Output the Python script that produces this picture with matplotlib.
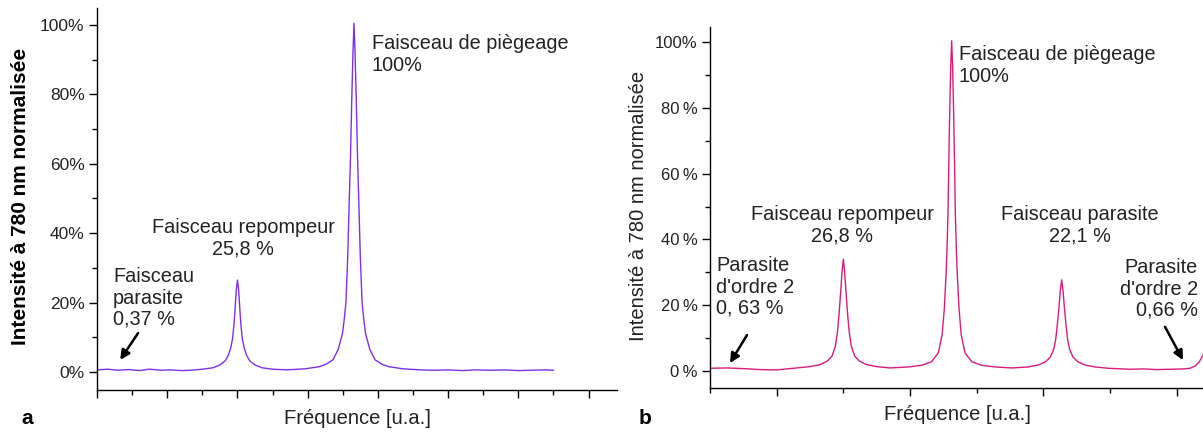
import matplotlib
matplotlib.use("Agg")
import matplotlib.pyplot as plt
from matplotlib.ticker import MultipleLocator, FixedLocator, FixedFormatter

plt.rcParams['font.family'] = ['Liberation Sans', 'DejaVu Sans']

# ---- panel a : spectre (violet) ----
freq_a = [0.0, 0.3, 0.6, 0.9, 1.2, 1.5, 1.8, 2.1, 2.4, 2.7, 3.0,
          3.3, 3.5, 3.65, 3.74, 3.81, 3.86, 3.9, 3.925, 3.95, 3.97, 4.0,
          4.03, 4.05, 4.075, 4.1, 4.14, 4.19, 4.26, 4.35, 4.5, 4.7, 5.0,
          5.4, 5.92, 6.32, 6.52, 6.72, 6.87, 6.99, 7.04, 7.09, 7.14, 7.186,
          7.22, 7.257, 7.29, 7.32, 7.35, 7.383, 7.42, 7.454, 7.5, 7.55, 7.6,
          7.65, 7.77, 7.92, 8.12, 8.32, 8.72, 9.22,
          9.6, 10.0, 10.4, 10.8, 11.2, 11.6, 12.0, 12.4, 12.8, 13.0]
intens_a = [0.6, 0.8, 0.5, 0.7, 0.4, 0.8, 0.5, 0.6, 0.4, 0.5, 0.8,
            1.2, 2.0, 3.2, 4.8, 7.0, 9.5, 13.5, 17, 21, 24, 26.5,
            24, 21, 17, 13.5, 9.5, 7.0, 4.8, 3.2, 2.0, 1.2, 0.8,
            0.6, 0.9, 1.5, 2.2, 3.5, 6.5, 11, 15, 20, 33, 50,
            62, 79, 92, 100.5, 92, 79, 62, 50, 33, 20, 15,
            11, 6.5, 3.5, 2.2, 1.5, 0.9, 0.6,
            0.5, 0.6, 0.4, 0.6, 0.5, 0.6, 0.4, 0.5, 0.6, 0.5]

# ---- panel b : spectre (magenta) ----
freq_b = [0.0, 0.25, 0.5, 0.75, 1.0, 1.3,
          1.5, 1.65, 1.76, 1.83, 1.88, 1.91, 1.933, 1.96, 1.98, 2.0,
          2.02, 2.04, 2.067, 2.09, 2.12, 2.17, 2.24, 2.35, 2.5, 2.7,
          2.975, 3.175, 3.325, 3.425, 3.482, 3.515, 3.542, 3.555, 3.57, 3.581,
          3.595, 3.61, 3.625, 3.64, 3.655, 3.669, 3.68, 3.695, 3.708, 3.735,
          3.768, 3.825, 3.925, 4.075, 4.275, 4.525,
          4.775, 4.925, 5.035, 5.105, 5.155, 5.185, 5.21, 5.235, 5.255, 5.275,
          5.295, 5.315, 5.34, 5.365, 5.395, 5.445, 5.515, 5.625, 5.775, 5.975,
          6.3, 6.5, 6.7, 6.9, 7.1, 7.2, 7.28, 7.34, 7.4]
intens_b = [0.8, 0.9, 0.7, 0.4, 0.3, 0.9,
            1.3, 1.9, 3.0, 4.5, 7.5, 11.5, 16.5, 24, 30, 34,
            30, 24, 16.5, 11.5, 7.5, 4.5, 3.0, 1.9, 1.3, 0.9,
            1.2, 1.7, 2.8, 5.5, 11, 19, 29.8, 37, 48, 62,
            78, 92, 100.4, 92, 78, 62, 48, 37, 29.8, 19,
            11, 5.5, 2.8, 1.7, 1.2, 0.9,
            1.2, 1.8, 2.8, 4.2, 6.5, 9.5, 14, 19.5, 24.5, 27.7,
            24.5, 19.5, 14, 9.5, 6.5, 4.2, 2.8, 1.8, 1.2, 0.8,
            0.5, 0.6, 0.4, 0.5, 0.6, 0.8, 1.5, 2.8, 4.9]

yticks = [0, 20, 40, 60, 80, 100]
ylabels_a = ['0%', '20%', '40%', '60%', '80%', '100%']
ylabels_b = ['0\u2009%', '20\u2009%', '40\u2009%', '60\u2009%', '80\u2009%', '100%']

W, H = 1203, 432
fig = plt.figure(figsize=(W / 100, H / 100), dpi=100)

ax_a = fig.add_axes([97 / W, 1 - 390 / H, 520 / W, 382 / H])
ax_b = fig.add_axes([710 / W, 1 - 388 / H, 493 / W, 361 / H])

ax_a.plot(freq_a, intens_a, color='#7f2fe6', lw=1.0)
ax_b.plot(freq_b, intens_b, color='#d81b7c', lw=1.0)

ax_a.set_xlim(0, 14.81)
ax_a.set_ylim(-5.2, 104.9)
ax_b.set_xlim(0, 7.395)
ax_b.set_ylim(-5.2, 104.6)

for ax, labs, fs in [(ax_a, ylabels_a, 12.5), (ax_b, ylabels_b, 12)]:
    for s in ['top', 'right']:
        ax.spines[s].set_visible(False)
    for s in ['left', 'bottom']:
        ax.spines[s].set_linewidth(1.0)
    ax.yaxis.set_major_locator(FixedLocator(yticks))
    ax.yaxis.set_major_formatter(FixedFormatter(labs))
    ax.yaxis.set_minor_locator(MultipleLocator(10))
    ax.tick_params(axis='both', which='major', direction='out', length=6, width=1,
                   labelsize=fs, pad=3, colors='black')
    ax.tick_params(axis='both', which='minor', direction='out', length=3.5, width=1)
    ax.tick_params(axis='x', labelbottom=False)
    for t in ax.get_yticklabels():
        t.set_color('#222222')

ax_a.xaxis.set_major_locator(MultipleLocator(2))
ax_a.xaxis.set_minor_locator(MultipleLocator(1))
ax_b.xaxis.set_major_locator(FixedLocator([1, 3, 5, 7]))
ax_b.xaxis.set_minor_locator(FixedLocator([0, 2, 4, 6]))

# labels d'axes
fig.text(21 / W, 1 - 196 / H, 'Intensité à 780 nm normalisée', rotation=90,
         ha='center', va='center', fontsize=15, fontweight='bold')
fig.text(639 / W, 1 - 206 / H, 'Intensité à 780 nm normalisée', rotation=90,
         ha='center', va='center', fontsize=14.5, color='#222222')
fig.text(357 / W, 1 - 418 / H, 'Fréquence [u.a.]', ha='center', va='center',
         fontsize=14.5, color='#222222')
fig.text(957 / W, 1 - 415 / H, 'Fréquence [u.a.]', ha='center', va='center',
         fontsize=14.5, color='#222222')
fig.text(27 / W, 1 - 419 / H, 'a', ha='center', va='center', fontsize=15, fontweight='bold')
fig.text(645 / W, 1 - 419 / H, 'b', ha='center', va='center', fontsize=15, fontweight='bold')

# annotations panel a
ta = dict(fontsize=14.3, color='#222222', linespacing=1.15)
ax_a.text(7.83, 91.5, 'Faisceau de piègeage\n100%', ha='left', va='center', **ta)
ax_a.text(4.16, 38.5, 'Faisceau repompeur\n25,8 %', ha='center', va='center',
          multialignment='center', **ta)
ax_a.text(0.46, 21.3, 'Faisceau\nparasite\n0,37 %', ha='left', va='center', **ta)
arrow = dict(arrowstyle='-|>', color='black', lw=1.8, mutation_scale=14, shrinkA=0, shrinkB=0)
ax_a.annotate('', xy=(0.66, 3.5), xytext=(1.17, 11.2), arrowprops=arrow)

# annotations panel b
ax_b.text(3.735, 92.9, 'Faisceau de piègeage\n100%', ha='left', va='center', **ta)
ax_b.text(1.98, 44.2, 'Faisceau repompeur\n26,8 %', ha='center', va='center',
          multialignment='center', **ta)
ax_b.text(5.55, 44.2, 'Faisceau parasite\n22,1 %', ha='center', va='center',
          multialignment='center', **ta)
ax_b.text(0.09, 25.5, "Parasite\nd'ordre 2\n0, 63 %", ha='left', va='center', **ta)
ax_b.text(7.32, 24.9, "Parasite\nd'ordre 2\n0,66 %", ha='right', va='center',
          multialignment='right', **ta)
ax_b.annotate('', xy=(0.3, 2.4), xytext=(0.555, 10.9), arrowprops=arrow)
ax_b.annotate('', xy=(7.095, 3.3), xytext=(6.825, 13.4), arrowprops=arrow)

fig.savefig('out.png', dpi=100)
